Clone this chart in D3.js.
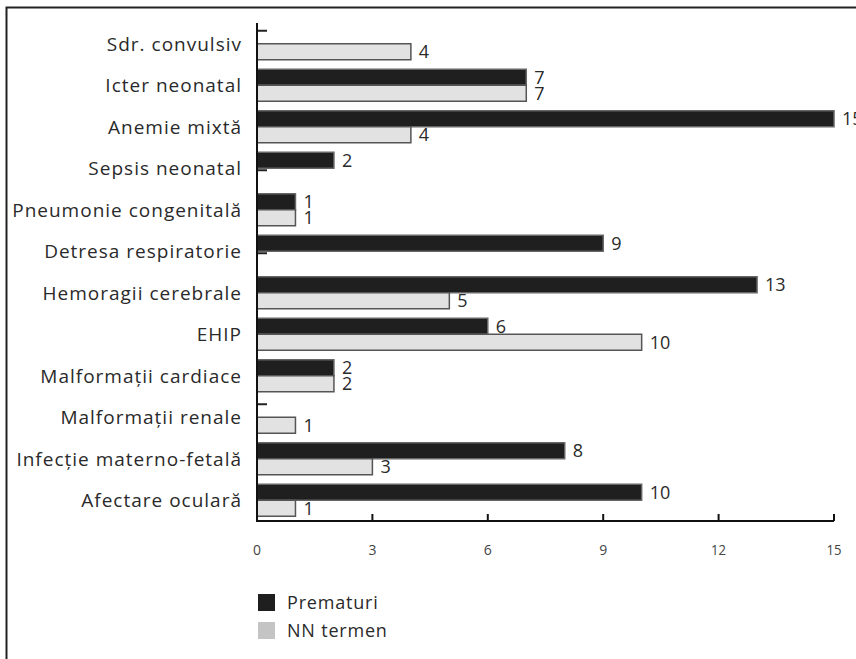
<!DOCTYPE html>
<html><head><meta charset="utf-8">
<script src="https://cdn.jsdelivr.net/npm/d3@7"></script>
<style>
html,body{margin:0;padding:0;background:#fff;}
svg{display:block;}
text{font-family:"Open Sans","Liberation Sans",sans-serif;}
</style></head>
<body>
<svg id="chart" width="856" height="659"></svg>
<script>
const categories = ["Sdr. convulsiv","Icter neonatal","Anemie mixtă","Sepsis neonatal","Pneumonie congenitală","Detresa respiratorie","Hemoragii cerebrale","EHIP","Malformații cardiace","Malformații renale","Infecție materno-fetală","Afectare oculară"];
const prematuri = [0,7,15,2,1,9,13,6,2,0,8,10];
const nnTermen  = [4,7,4,0,1,0,5,10,2,1,3,1];
const seriesNames = ["Prematuri","NN termen"];
const xTicks = [0,3,6,9,12,15];

const svg = d3.select("#chart");
const x = d3.scaleLinear().domain([0,15]).range([257,834]);
const y = d3.scaleBand().domain(categories).range([23,521]);
const barH = 16;
const colors = {fill:["#1f1f1f","#e2e2e2"], stroke:["#666","#555"]};

// outer frame
svg.append("path").attr("d","M6.5,700 L6.5,7.5 L900,7.5").attr("fill","none").attr("stroke","#222").attr("stroke-width",2);

const series = [prematuri, nnTermen];
series.forEach((vals, si) => {
  const g = svg.append("g");
  categories.forEach((c, i) => {
    const v = vals[i];
    const yc = y(c) + y.bandwidth()/2;
    const top = si === 0 ? yc - barH : yc;
    if (v > 0) {
      g.append("rect").attr("x", x(0)).attr("y", top)
        .attr("width", x(v) - x(0)).attr("height", barH)
        .attr("fill", colors.fill[si]).attr("stroke", colors.stroke[si]).attr("stroke-width", 1.5);
      g.append("text").attr("x", x(v) + 8).attr("y", top + barH/2)
        .attr("dy","0.36em").attr("font-size",18).attr("fill","#2a2a2a").text(v);
    } else {
      // zero-value stub
      g.append("line").attr("x1", x(0)).attr("x2", x(0) + 10)
        .attr("y1", si === 0 ? top + 3 : top + 2).attr("y2", si === 0 ? top + 3 : top + 2)
        .attr("stroke","#222").attr("stroke-width",2);
    }
  });
});

// y axis line
svg.append("line").attr("x1", x(0)).attr("x2", x(0)).attr("y1", 23).attr("y2", 521)
  .attr("stroke","#111").attr("stroke-width",2);
// category labels
categories.forEach(c => {
  svg.append("text").attr("x", 242).attr("y", y(c) + y.bandwidth()/2)
    .attr("text-anchor","end").attr("dy","0.36em").attr("font-size",19)
    .attr("letter-spacing", 1).attr("fill","#2a2a2a").text(c);
});

// x axis
svg.append("line").attr("x1", x(0) - 1).attr("x2", x(15)).attr("y1", 521).attr("y2", 521)
  .attr("stroke","#111").attr("stroke-width",2);
xTicks.forEach(t => {
  if (t > 0) svg.append("line").attr("x1", x(t)).attr("x2", x(t)).attr("y1", 521).attr("y2", 514)
    .attr("stroke","#111").attr("stroke-width",2);
  svg.append("text").attr("x", x(t)).attr("y", 555).attr("text-anchor","middle")
    .attr("font-size",15).attr("fill","#444").attr("textLength", t >= 10 ? 15 : 8)
    .attr("lengthAdjust","spacingAndGlyphs").text(t);
});

// legend
seriesNames.forEach((n, i) => {
  const ly = 594 + i * 28;
  svg.append("rect").attr("x", 258).attr("y", ly).attr("width", 17).attr("height", 17)
    .attr("fill", i === 0 ? "#1f1f1f" : "#c4c4c4");
  svg.append("text").attr("x", 287).attr("y", ly + 9).attr("dy","0.36em")
    .attr("font-size",18).attr("letter-spacing",0.8).attr("fill","#2a2a2a").text(n);
});
</script>
</body></html>
